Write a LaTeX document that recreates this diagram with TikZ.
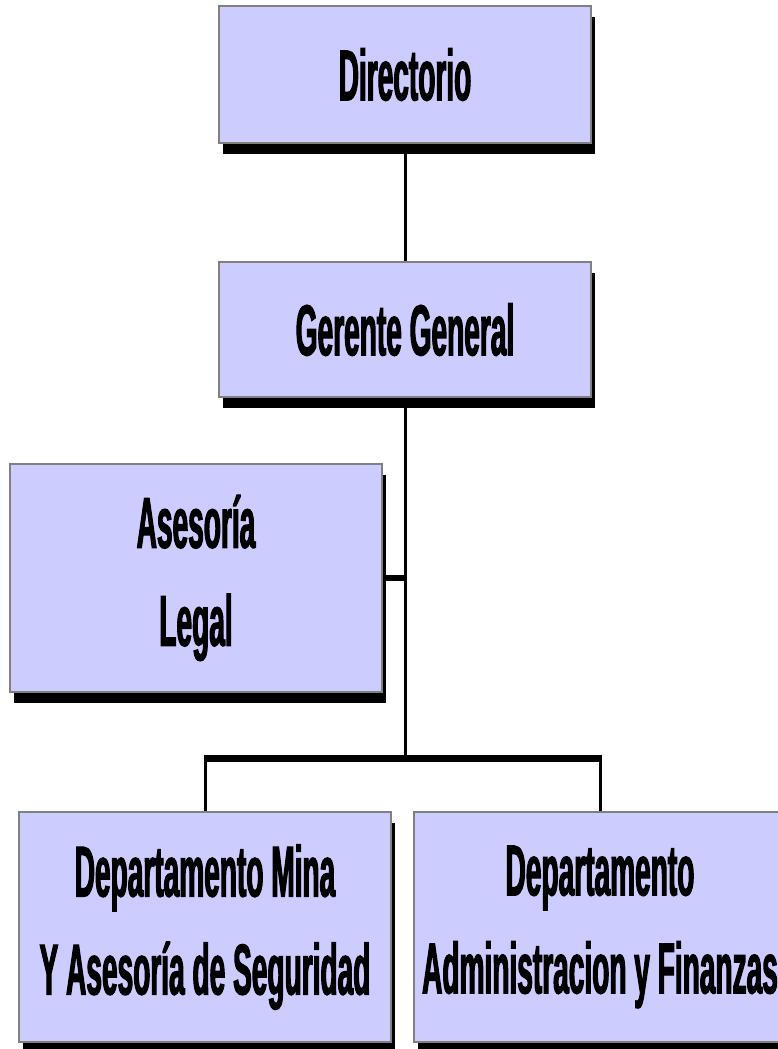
\documentclass[tikz,border=0pt]{standalone}
\usepackage{fontspec}
\newfontfamily\boxfont{Liberation Sans}[FakeStretch=0.39, FakeBold=1.5]
\usetikzlibrary{shadows}
\definecolor{boxfill}{HTML}{CCCCFF}
\definecolor{boxline}{HTML}{808080}
\begin{document}
\begin{tikzpicture}[x=1pt,y=-1pt,
  orgbox/.style={draw=boxline, line width=2pt, fill=boxfill,
    minimum width=372pt, inner sep=0pt, align=center,
    font=\boxfont\bfseries\fontsize{72}{98}\selectfont,
    drop shadow={shadow xshift=4pt, shadow yshift=-11pt, fill=black, opacity=1}},
  link/.style={line width=3pt, black},
  thicklink/.style={line width=7pt, black}]
\useasboundingbox (0,0) rectangle (778,1049);
\begin{scope}
\clip (0,0) rectangle (778,1049);
\node[orgbox, minimum height=137pt] (dir) at (405,74.5) {Directorio};
\node[orgbox, minimum height=135pt] (ger) at (405,329.5) {Gerente General};
\node[orgbox, minimum height=228pt] (ase) at (196,578) {Asesoría\\Legal};
\node[orgbox, minimum height=230pt] (mina) at (205,927) {Departamento Mina\\Y Asesoría de Seguridad};
\node[orgbox, minimum height=230pt] (fin) at (600,927) {Departamento\\Administracion y Finanzas};
\end{scope}
\coordinate (j) at (405,758);
\draw[link] (dir.south) -- (ger.north);
\draw[link] (ger.south) -- (j);
\draw[line width=6pt] (ase.east) -- (ase.east -| ger.south);
\draw[thicklink] ([xshift=-1.5pt]mina.north |- j) -- ([xshift=1.5pt]fin.north |- j);
\draw[link] (mina.north |- j) -- (mina.north);
\draw[link] (fin.north |- j) -- (fin.north);
\end{tikzpicture}
\end{document}
